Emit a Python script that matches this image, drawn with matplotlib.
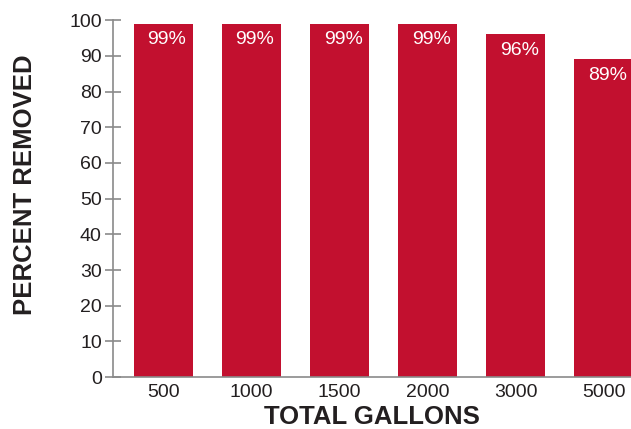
import matplotlib.pyplot as plt
import numpy as np

OUTPUT_PATH = "out.png"

gallons = ["500", "1000", "1500", "2000", "3000", "5000"]
percent_removed = [99, 99, 99, 99, 96, 89]
bar_labels = ["99%", "99%", "99%", "99%", "96%", "89%"]

BAR_COLOR = "#C2102F"
TEXT_COLOR = "#231F20"
AXIS_COLOR = "#8A8A8A"

plt.rcParams["font.family"] = ["Liberation Sans", "DejaVu Sans"]

fig = plt.figure(figsize=(6.31, 4.29), dpi=100)
ax = fig.add_axes([0.179, 0.121, 0.821, 0.832])

x = np.arange(len(gallons))
ax.bar(x, percent_removed, width=0.67, color=BAR_COLOR, zorder=2)

for xi, val, lab in zip(x, percent_removed, bar_labels):
    ax.text(xi + 0.04, val - 4.5, lab, color="white", fontsize=14,
            ha="center", va="center", zorder=3)

ax.set_xlim(-0.574, 5.31)
ax.set_ylim(0, 100)
ax.set_yticks(np.arange(0, 101, 10))
ax.set_xticks(x)
ax.set_xticklabels(gallons)

for side in ["top", "right"]:
    ax.spines[side].set_visible(False)
for side in ["left", "bottom"]:
    ax.spines[side].set_color(AXIS_COLOR)
    ax.spines[side].set_linewidth(1.2)

ax.tick_params(axis="y", direction="inout", length=12, width=1.2,
               color=AXIS_COLOR, labelsize=14, labelcolor=TEXT_COLOR, pad=2)
ax.tick_params(axis="x", length=0, labelsize=14, labelcolor=TEXT_COLOR, pad=5)

ax.set_xlabel("TOTAL GALLONS", fontsize=18.5, fontweight="bold", color=TEXT_COLOR, labelpad=3)
ax.set_ylabel("PERCENT REMOVED", fontsize=18.5, fontweight="bold", color=TEXT_COLOR,
              labelpad=23, y=0.538)

fig.savefig(OUTPUT_PATH, dpi=100)
plt.close(fig)
